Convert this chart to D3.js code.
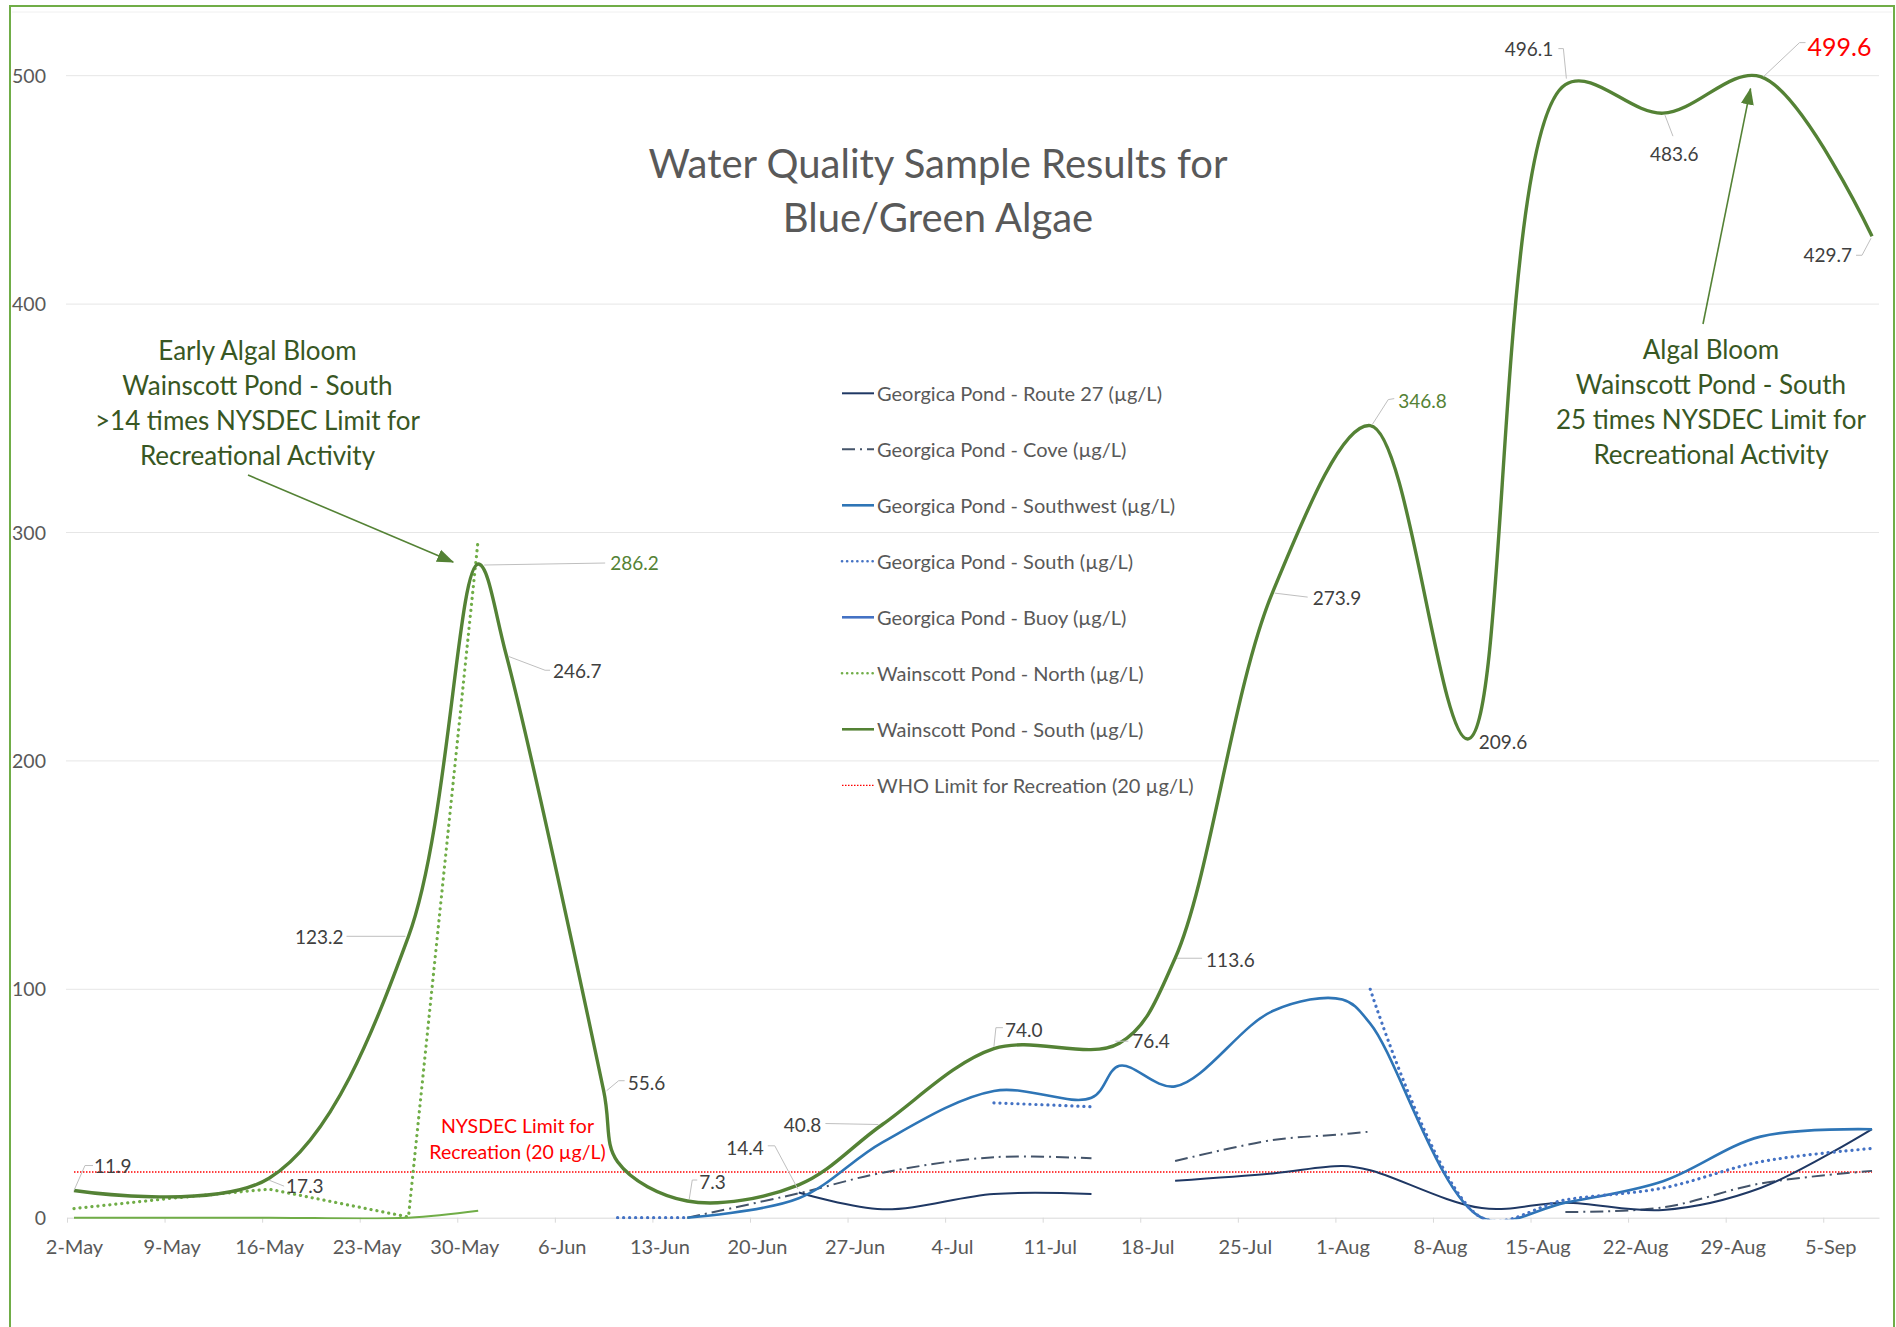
<!DOCTYPE html>
<html>
<head>
<meta charset="utf-8">
<script src="https://cdn.jsdelivr.net/npm/d3@7"></script>
<style>
  body { margin: 0; background: #fff; }
  text { font-family: Lato, 'Open Sans', sans-serif; }
</style>
</head>
<body>
<script>
// ---- data ----
const tickDates = ['2016-05-02','2016-05-09','2016-05-16','2016-05-23','2016-05-30','2016-06-06','2016-06-13',
    '2016-06-20','2016-06-27','2016-07-04','2016-07-11','2016-07-18','2016-07-25','2016-08-01','2016-08-08',
    '2016-08-15','2016-08-22','2016-08-29','2016-09-05']
const yTicks = [0, 100, 200, 300, 400, 500]

const wainscottSouthDates = ['2016-05-02','2016-05-16','2016-05-26','2016-05-31','2016-06-02','2016-06-09','2016-06-10',
    '2016-06-15','2016-06-23','2016-06-29','2016-07-07','2016-07-16','2016-07-20','2016-07-27','2016-08-03',
    '2016-08-10','2016-08-17','2016-08-24','2016-08-31','2016-09-08']
const wainscottSouth = [11.9, 17.3, 123.2, 286.2, 246.7, 55.6, 24.5, 7.3, 14.4, 40.8, 74.0, 76.4, 113.6, 273.9, 346.8,
    209.6, 496.1, 483.6, 499.6, 429.7]

const wainscottNorthDates = ['2016-05-02','2016-05-09','2016-05-16','2016-05-26','2016-05-31']
const wainscottNorth = [4.0, 8.5, 12.5, 0.3, 297]
const wainscottOther = [0, 0, 0, 0, 3]

const georgicaDates = ['2016-06-10','2016-06-15','2016-06-23','2016-06-29','2016-07-07','2016-07-14','2016-07-16',
    '2016-07-20','2016-07-27','2016-08-01','2016-08-03','2016-08-11','2016-08-17','2016-08-24','2016-08-31','2016-09-08']
const route27   = [null, null, 11.0, 3.7, 10.4, 10.4, null, 16.2, 19.4, 22.6, 20.8, 4.2, 6.6, 3.4, 13.0, 38.8]
const cove      = [null, 0, 10.7, 19.7, 26.5, 26.0, null, 24.8, 34.0, 36.5, 37.7, null, 2.5, 4.5, 15.0, 20.5]
const southwest = [null, 0, 8.5, 33.0, 55.5, 52.5, 66.5, 57.5, 90.5, 95.5, 85.0, 0, 6.6, 16.0, 35.5, 38.7]
const south     = [0, 0, null, null, 50.3, 48.6, null, null, null, null, 100.0, 0, 7.8, 13.0, 24.5, 30.3]

const whoDates = ['2016-05-02','2016-09-08']
const whoLimit = [20, 20]

const legendNames = ['Georgica Pond - Route 27 (µg/L)','Georgica Pond - Cove (µg/L)','Georgica Pond - Southwest (µg/L)',
    'Georgica Pond - South (µg/L)','Georgica Pond - Buoy (µg/L)','Wainscott Pond - North (µg/L)',
    'Wainscott Pond - South (µg/L)','WHO Limit for Recreation (20 µg/L)']

// ---- layout ----
const W = 1896, H = 1327
const margin = { top: 75.7, right: 17, bottom: 109.3, left: 67 }
const parse = d3.utcParse('%Y-%m-%d')

const svg = d3.select('body').append('svg')
    .attr('width', W)
    .attr('height', H)

const xScale = d3.scaleUtc()
    .domain([parse('2016-05-02'), parse('2016-09-09')])
    .range([margin.left, W - margin.right])
const yScale = d3.scaleLinear()
    .domain([0, 500])
    .range([H - margin.bottom, margin.top])
const halfDay = (xScale(parse('2016-05-03')) - xScale(parse('2016-05-02'))) / 2
const px = d => xScale(parse(d)) + halfDay

// frame
svg.append('rect')
    .attr('x', 10).attr('y', 6)
    .attr('width', 1884).attr('height', 1340)
    .style('fill', 'none').style('stroke', '#70AD47').style('stroke-width', 2)
svg.append('line')
    .attr('x1', 12).attr('x2', 1892).attr('y1', 12).attr('y2', 12)
    .style('stroke', '#f0f0f0')

// gridlines
svg.selectAll('.grid')
    .data(yTicks.slice(1))
    .enter().append('line')
    .attr('class', 'grid')
    .attr('x1', margin.left - 1).attr('x2', W - margin.right)
    .attr('y1', d => yScale(d)).attr('y2', d => yScale(d))
    .style('stroke', '#e6e6e6').style('stroke-width', 1)

// y labels
svg.selectAll('.ylab')
    .data(yTicks)
    .enter().append('text')
    .attr('class', 'ylab')
    .attr('x', 46)
    .attr('y', d => yScale(d) + 7)
    .style('text-anchor', 'end')
    .style('font-size', '19.5px')
    .style('fill', '#595959')
    .text(d => d)

// x axis
const xAxis = svg.append('g')
    .attr('transform', `translate(0, ${yScale(0)})`)
    .call(d3.axisBottom(xScale)
        .tickValues(tickDates.map(parse))
        .tickFormat(d3.utcFormat('%-d-%b'))
        .tickSize(5)
        .tickSizeOuter(0))
xAxis.select('.domain').style('stroke', '#d9d9d9')
xAxis.selectAll('.tick line').style('stroke', '#d9d9d9')
xAxis.selectAll('.tick text')
    .attr('x', halfDay)
    .attr('y', 36.5)
    .attr('dy', 0)
    .style('font-family', 'Lato')
    .style('font-size', '20px')
    .style('fill', '#595959')

// title
const title = svg.append('text')
    .attr('x', 938)
    .style('text-anchor', 'middle')
    .style('font-size', '40px')
    .style('fill', '#595959')
title.append('tspan').attr('x', 938).attr('y', 177.5).text('Water Quality Sample Results for')
title.append('tspan').attr('x', 938).attr('y', 232).text('Blue/Green Algae')

// ---- series ----
svg.append('clipPath').attr('id', 'plot')
    .append('rect')
    .attr('x', margin.left - 8).attr('y', 0)
    .attr('width', W - margin.left - margin.right + 16)
    .attr('height', yScale(0) + 1.5)

const plot = svg.append('g').attr('clip-path', 'url(#plot)')

const smooth = d3.curveCatmullRom.alpha(0.5)

const styles = {
    route27:  { stroke: '#1F3864', width: 2,   dash: null, cap: 'butt' },
    cove:     { stroke: '#44546A', width: 2,   dash: '13,5,2,5', cap: 'butt' },
    southwest:{ stroke: '#2E75B6', width: 2.6, dash: null, cap: 'butt' },
    south:    { stroke: '#4472C4', width: 3.2, dash: '0.1,5.9', cap: 'round' },
    buoy:     { stroke: '#4472C4', width: 2.6, dash: null, cap: 'butt' },
    wNorth:   { stroke: '#70AD47', width: 3.2, dash: '0.1,5.9', cap: 'round' },
    wSouth:   { stroke: '#548235', width: 3.4, dash: null, cap: 'butt' },
    who:      { stroke: '#FF0000', width: 1.5, dash: '1.5,1.5', cap: 'butt' },
    wOther:   { stroke: '#70AD47', width: 2,   dash: null, cap: 'butt' }
}

function drawSeries(dates, values, s, curve) {
    const pts = dates.map((d, i) => ({ date: d, v: values[i] }))
    const line = d3.line()
        .defined(d => d.v != null)
        .x(d => px(d.date))
        .y(d => yScale(d.v))
        .curve(curve || smooth)
    plot.append('path')
        .datum(pts)
        .attr('d', line)
        .style('fill', 'none')
        .style('stroke', s.stroke)
        .style('stroke-width', s.width)
        .style('stroke-dasharray', s.dash)
        .style('stroke-linecap', s.cap)
        .style('stroke-linejoin', 'round')
}

drawSeries(whoDates, whoLimit, styles.who, d3.curveLinear)
drawSeries(wainscottNorthDates, wainscottOther, styles.wOther)
drawSeries(georgicaDates, cove, styles.cove)
drawSeries(georgicaDates, route27, styles.route27)
drawSeries(georgicaDates, southwest, styles.southwest)
drawSeries(georgicaDates, south, styles.south)
drawSeries(wainscottNorthDates, wainscottNorth, styles.wNorth, d3.curveLinear)
drawSeries(wainscottSouthDates, wainscottSouth, styles.wSouth)

// ---- data labels for Wainscott Pond - South ----
// offset of the label from its point, anchor, and leader line (relative to the point)
const labelLayout = [
    { dx: 20, dy: -24, anchor: 'start', leader: [[0,0],[11,-25],[19,-25]] },
    { dx: 17, dy: 8, anchor: 'start', leader: [[0,2],[15,8]] },
    { dx: -65, dy: 1, anchor: 'end', leader: [[-3,0],[-62,0]] },
    { dx: 132, dy: -1, anchor: 'start', leader: [[6,1],[127,-1]], color: '#548235' },
    { dx: 47, dy: 17, anchor: 'start', leader: [[2,2],[39,16],[44,16]] },
    { dx: 24, dy: -8, anchor: 'start', leader: [[3,0],[15,-10],[21,-10]] },
    null,
    { dx: 12, dy: -19, anchor: 'start', leader: [[2,-2],[5,-21],[10,-21]] },
    { dx: -35, dy: -37, anchor: 'end', leader: [[-1,4],[-24,-39],[-31,-39]] },
    { dx: -61, dy: 1, anchor: 'end', leader: [[-4,0],[-57,-1]] },
    { dx: 11, dy: -19, anchor: 'start', leader: [[0,-2],[2,-21],[9,-21]] },
    { dx: 13, dy: -2, anchor: 'start', leader: [[-4,-2],[9,-2]] },
    { dx: 31, dy: 2, anchor: 'start', leader: [[2,0],[27,0]] },
    { dx: 40, dy: 6, anchor: 'start', leader: [[2,1],[35,5]] },
    { dx: 28, dy: -24, anchor: 'start', leader: [[2,-1],[18,-26],[24,-27]], color: '#548235' },
    { dx: 11, dy: 3, anchor: 'start', leader: null },
    { dx: -12, dy: -35, anchor: 'end', leader: [[1,-6],[-2,-36],[-7,-36]] },
    { dx: -13, dy: 41, anchor: 'start', leader: [[2,2],[10,23]] },
    { dx: 47, dy: -30, anchor: 'start', leader: [[3,0],[39,-34],[45,-34]], color: '#FF0000', size: 25 },
    { dx: -20, dy: 19, anchor: 'end', leader: [[-1,2],[-10,19],[-16,19]] }
]

const labelData = wainscottSouthDates.map((d, i) => ({ date: d, v: wainscottSouth[i], l: labelLayout[i] }))
    .filter(d => d.l)

svg.selectAll('.leader')
    .data(labelData.filter(d => d.l.leader))
    .enter().append('path')
    .attr('class', 'leader')
    .attr('d', d => d3.line()(d.l.leader.map(p => [px(d.date) + p[0], yScale(d.v) + p[1]])))
    .style('fill', 'none')
    .style('stroke', '#bfbfbf')
    .style('stroke-width', 1)

svg.selectAll('.dlabel')
    .data(labelData)
    .enter().append('text')
    .attr('class', 'dlabel')
    .attr('x', d => px(d.date) + d.l.dx)
    .attr('y', d => yScale(d.v) + d.l.dy + (d.l.size || 19) * 0.36)
    .style('text-anchor', d => d.l.anchor)
    .style('font-size', d => (d.l.size || 19) + 'px')
    .style('fill', d => d.l.color || '#404040')
    .text(d => d3.format('.1f')(d.v))

// ---- legend ----
const legendKeys = ['route27','cove','southwest','south','buoy','wNorth','wSouth','who']
const legend = svg.selectAll('.legend')
    .data(legendNames)
    .enter().append('g')
    .attr('class', 'legend')
    .attr('transform', (d, i) => `translate(842, ${393.3 + i * 56})`)
legend.append('line')
    .attr('x1', 0).attr('x2', 32)
    .attr('y1', 0).attr('y2', 0)
    .each(function (d, i) {
        const s = styles[legendKeys[i]]
        d3.select(this)
            .style('stroke', s.stroke)
            .style('stroke-width', legendKeys[i] === 'who' ? 1.2 : Math.min(s.width, 2.6))
            .style('stroke-dasharray', legendKeys[i] === 'south' || legendKeys[i] === 'wNorth' ? '0.1,5' : s.dash)
            .style('stroke-linecap', s.cap)
    })
legend.append('text')
    .attr('x', 35)
    .attr('y', 7.2)
    .style('font-size', '20px')
    .style('fill', '#595959')
    .text(d => d)

// ---- annotations ----
const defs = svg.append('defs')
defs.append('marker')
    .attr('id', 'arrow')
    .attr('viewBox', '0 -7 17 14')
    .attr('refX', 16).attr('refY', 0)
    .attr('markerWidth', 17).attr('markerHeight', 14)
    .attr('markerUnits', 'userSpaceOnUse')
    .attr('orient', 'auto')
    .append('path')
    .attr('d', 'M0,-6.5L17,0L0,6.5Z')
    .style('fill', '#548235')

function note(cx, y0, lines) {
    const t = svg.append('text')
        .style('text-anchor', 'middle')
        .style('font-size', '26px')
        .style('fill', '#385723')
    lines.forEach((s, i) => t.append('tspan').attr('x', cx).attr('y', y0 + i * 35).text(s))
}
note(257.5, 360, ['Early Algal Bloom', 'Wainscott Pond - South', '>14 times NYSDEC Limit for', 'Recreational Activity'])
note(1711, 358.5, ['Algal Bloom', 'Wainscott Pond - South', '25 times NYSDEC Limit for', 'Recreational Activity'])

const arrows = [
    { from: [248, 475], to: [px('2016-05-31') - 25, yScale(286.2) - 2] },
    { from: [1703, 324], to: [px('2016-08-31') - 10, yScale(499.6) + 12] }
]
svg.selectAll('.arrow')
    .data(arrows)
    .enter().append('line')
    .attr('class', 'arrow')
    .attr('x1', d => d.from[0]).attr('y1', d => d.from[1])
    .attr('x2', d => d.to[0]).attr('y2', d => d.to[1])
    .style('stroke', '#548235')
    .style('stroke-width', 1.6)
    .attr('marker-end', 'url(#arrow)')

const nys = svg.append('text')
    .style('text-anchor', 'middle')
    .style('font-size', '19.5px')
    .style('fill', '#FF0000')
nys.append('tspan').attr('x', 517.5).attr('y', 1133).text('NYSDEC Limit for')
nys.append('tspan').attr('x', 517.5).attr('y', 1159).text('Recreation (20 µg/L)')
</script>
</body>
</html>
